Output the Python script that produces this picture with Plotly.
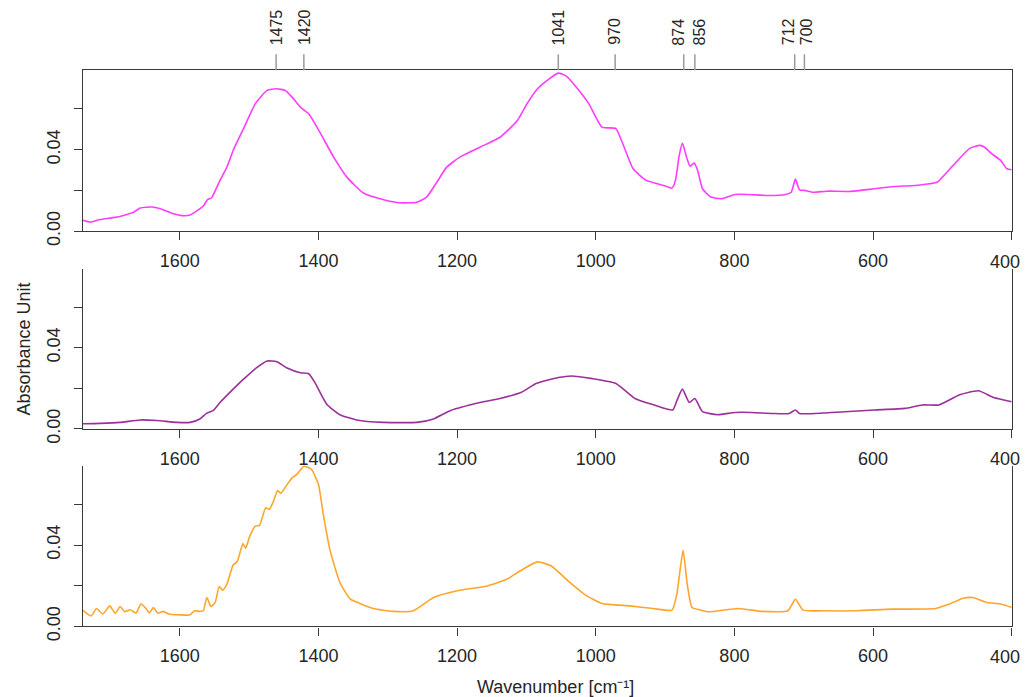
import plotly.graph_objects as go

# ---------------- data ----------------
wn_top = [1740, 1729, 1715, 1696, 1681, 1667, 1657, 1640, 1624, 1609, 1597, 1585, 1576, 1566, 1560,
          1554, 1542, 1532, 1523, 1508, 1491, 1474, 1460, 1448, 1438, 1426, 1414, 1398, 1378, 1359,
          1335, 1306, 1282, 1258, 1244, 1229, 1215, 1196, 1167, 1138, 1113, 1099, 1084, 1069, 1054,
          1042, 1030, 1010, 991, 971, 961, 946, 927, 902, 890, 885, 880, 875, 869, 864, 858, 853,
          846, 834, 819, 799, 780, 755, 726, 718, 712, 706, 699, 686, 667, 632, 598, 569, 539, 507,
          500, 480, 461, 446, 439, 429, 416, 407, 400]
abs_top = [0.0053, 0.0044, 0.0057, 0.0066, 0.0077, 0.0092, 0.0113, 0.0118, 0.0105, 0.0085, 0.0076,
           0.0079, 0.0098, 0.0123, 0.0154, 0.0164, 0.0249, 0.0314, 0.0396, 0.0503, 0.0626, 0.0691,
           0.0699, 0.0691, 0.0658, 0.0609, 0.0576, 0.0486, 0.0363, 0.0265, 0.0187, 0.0154, 0.0139,
           0.0142, 0.0167, 0.0241, 0.0314, 0.0363, 0.0412, 0.0461, 0.0543, 0.0626, 0.0699, 0.0743,
           0.0776, 0.0760, 0.0715, 0.0626, 0.0511, 0.0503, 0.0429, 0.0306, 0.0249, 0.0224, 0.0211,
           0.0249, 0.0363, 0.0432, 0.0363, 0.0319, 0.0334, 0.0298, 0.0208, 0.0167, 0.0159, 0.0180,
           0.0180, 0.0175, 0.0180, 0.0191, 0.0255, 0.0203, 0.0200, 0.0191, 0.0196, 0.0195, 0.0208,
           0.0219, 0.0224, 0.0241, 0.0265, 0.0339, 0.0405, 0.0421, 0.0412, 0.0380, 0.0347, 0.0306,
           0.0301]

wn_mid = [1740, 1715, 1686, 1657, 1633, 1604, 1585, 1571, 1561, 1552, 1542, 1523, 1508, 1489, 1474,
          1460, 1446, 1426, 1414, 1405, 1388, 1369, 1345, 1306, 1258, 1234, 1210, 1167, 1138, 1108,
          1086, 1054, 1035, 1005, 971, 942, 917, 889, 883, 875, 865, 857, 846, 824, 799, 775, 745,
          721, 712, 706, 672, 647, 598, 554, 529, 505, 475, 448, 426, 400]
abs_mid = [0.0025, 0.0027, 0.0032, 0.0044, 0.0041, 0.0032, 0.0032, 0.0049, 0.0078, 0.0090, 0.0130,
           0.0196, 0.0245, 0.0302, 0.0335, 0.0331, 0.0302, 0.0277, 0.0272, 0.0228, 0.0122, 0.0070,
           0.0044, 0.0032, 0.0032, 0.0049, 0.0090, 0.0130, 0.0150, 0.0179, 0.0224, 0.0253, 0.0261,
           0.0248, 0.0224, 0.0147, 0.0119, 0.0093, 0.0139, 0.0196, 0.0130, 0.0150, 0.0085, 0.0070,
           0.0081, 0.0081, 0.0076, 0.0076, 0.0093, 0.0076, 0.0078, 0.0083, 0.0093, 0.0101, 0.0118,
           0.0118, 0.0168, 0.0188, 0.0155, 0.0134]

wn_bot = [1740, 1728, 1720, 1711, 1701, 1693, 1686, 1679, 1672, 1663, 1656, 1648, 1644, 1638, 1632,
          1624, 1616, 1600, 1585, 1579, 1571, 1566, 1561, 1555, 1549, 1543, 1538, 1532, 1523, 1517,
          1509, 1505, 1499, 1491, 1485, 1476, 1471, 1465, 1459, 1454, 1446, 1438, 1431, 1421, 1410,
          1400, 1393, 1383, 1369, 1354, 1340, 1321, 1292, 1263, 1234, 1200, 1157, 1128, 1113, 1084,
          1064, 1040, 1015, 991, 951, 917, 890, 883, 874, 868, 861, 848, 838, 794, 760, 723, 712,
          701, 672, 623, 573, 510, 490, 470, 456, 436, 416, 400]
abs_bot = [0.0080, 0.0052, 0.0088, 0.0061, 0.0101, 0.0064, 0.0098, 0.0072, 0.0082, 0.0066, 0.0110,
           0.0085, 0.0066, 0.0093, 0.0066, 0.0074, 0.0061, 0.0057, 0.0057, 0.0077, 0.0074, 0.0077,
           0.0142, 0.0098, 0.0118, 0.0196, 0.0178, 0.0208, 0.0302, 0.0319, 0.0407, 0.0384, 0.0444,
           0.0493, 0.0497, 0.0583, 0.0575, 0.0613, 0.0668, 0.0654, 0.0693, 0.0730, 0.0747, 0.0787,
           0.0771, 0.0698, 0.0551, 0.0371, 0.0216, 0.0134, 0.0113, 0.0088, 0.0074, 0.0077, 0.0142,
           0.0175, 0.0199, 0.0232, 0.0265, 0.0317, 0.0297, 0.0224, 0.0155, 0.0113, 0.0101, 0.0088,
           0.0080, 0.0159, 0.0374, 0.0208, 0.0093, 0.0080, 0.0072, 0.0088, 0.0074, 0.0077, 0.0134,
           0.0080, 0.0077, 0.0077, 0.0085, 0.0088, 0.0110, 0.0139, 0.0142, 0.0118, 0.0110, 0.0093]

band_labels = ["1475", "1420", "1041", "970", "874", "856", "712", "700"]
band_pos = [1461, 1421, 1054, 972, 873, 857, 713, 699]        # marker line positions
band_label_pos = [1461, 1421, 1054, 972, 880, 850, 722, 696]  # label positions (spread apart)

x_ticks = [1600, 1400, 1200, 1000, 800, 600, 400]
y_ticks = [0.00, 0.02, 0.04, 0.06]
y_ticklabels = ["0.00", "", "0.04", ""]

series = [
    (wn_top, abs_top, "#ff3cff"),
    (wn_mid, abs_mid, "#9b309b"),
    (wn_bot, abs_bot, "#ffa52c"),
]

# ---------------- layout geometry ----------------
# page keeps the default 8px body margin; the captured page is squeezed vertically by SY
OFF = 8
W, H = 1031 - 2 * OFF, 697
SY = 697 / 713


def px_x(x):
    return (x - OFF) / W


def px_y(y):
    return 1 - (y / SY - OFF) / H


x_left, x_right = 82.7, 1011.7
panels_px = [(70, 230.7), (268.3, 428.3), (465, 625.7)]  # (top, bottom) target pixels
x_range = [1740, 400]
y_range = [0, 0.079]

FONT = "Liberation Sans, Arial, Helvetica, sans-serif"
TXT = "#262626"
AX = "#3a3a3a"

fig = go.Figure()
for i, (wx, ay, col) in enumerate(series):
    n = "" if i == 0 else str(i + 1)
    fig.add_trace(go.Scatter(x=wx, y=ay, mode="lines",
                             line=dict(color=col, width=1.6, shape="spline", smoothing=0.5),
                             xaxis="x" + n, yaxis="y" + n, showlegend=False, hoverinfo="skip"))

layout = dict(width=W, height=H, margin=dict(l=0, r=0, t=0, b=0),
              paper_bgcolor="white", plot_bgcolor="white",
              font=dict(family=FONT, size=18, color=TXT), showlegend=False)

last_tick = x_ticks[-1]
for i, (top, bot) in enumerate(panels_px):
    n = "" if i == 0 else str(i + 1)
    xa = dict(domain=[px_x(x_left), px_x(x_right)], range=x_range, anchor="y" + n,
              tickvals=x_ticks, ticktext=[("" if v == last_tick else str(v)) for v in x_ticks],
              ticks="outside", ticklen=8, tickwidth=1.2, tickcolor=AX,
              showline=True, linecolor=AX, linewidth=1.3, mirror=(i == 0),
              showgrid=False, zeroline=False, ticklabelstandoff=5,
              tickfont=dict(family=FONT, size=18, color=TXT))
    ya = dict(domain=[px_y(bot), px_y(top)], range=y_range, anchor="x" + n,
              tickvals=y_ticks, ticktext=y_ticklabels, tickangle=-90,
              ticks="outside", ticklen=8, tickwidth=1.2, tickcolor=AX,
              showline=True, linecolor=AX, linewidth=1.3, mirror=True,
              showgrid=False, zeroline=False, ticklabelstandoff=6,
              tickfont=dict(family=FONT, size=18, color=TXT))
    layout["xaxis" + n] = xa
    layout["yaxis" + n] = ya
    # last tick label at the right edge, nudged inward so it is not cut by the page edge
    fig.add_annotation(x=last_tick, xref="x" + n, y=px_y(bot + 30.5), yref="paper",
                       text=str(last_tick), showarrow=False, xanchor="right", yanchor="middle",
                       xshift=10, font=dict(family=FONT, size=18, color=TXT))

fig.update_layout(**layout)

# band markers on top of first panel
for pos, lpos, lab in zip(band_pos, band_label_pos, band_labels):
    fig.add_shape(type="line", xref="x", yref="paper", x0=pos, x1=pos,
                  y0=px_y(70), y1=px_y(54), line=dict(color="#9a9a9a", width=1.5))
    fig.add_annotation(x=lpos, xref="x", y=px_y(47), yref="paper", text=lab,
                       textangle=-90, showarrow=False, xanchor="center", yanchor="bottom",
                       font=dict(family=FONT, size=16, color=TXT))

# axis titles
fig.add_annotation(x=px_x(24), y=px_y(349), xref="paper", yref="paper", text="Absorbance Unit",
                   textangle=-90, showarrow=False, xanchor="center", yanchor="middle",
                   font=dict(family=FONT, size=18, color=TXT))
fig.add_annotation(x=px_x(555), y=px_y(686), xref="paper", yref="paper",
                   text="Wavenumber [cm⁻¹]", showarrow=False, xanchor="center", yanchor="middle",
                   font=dict(family=FONT, size=18, color=TXT))

fig.write_html("out.html", config={"displayModeBar": False})
